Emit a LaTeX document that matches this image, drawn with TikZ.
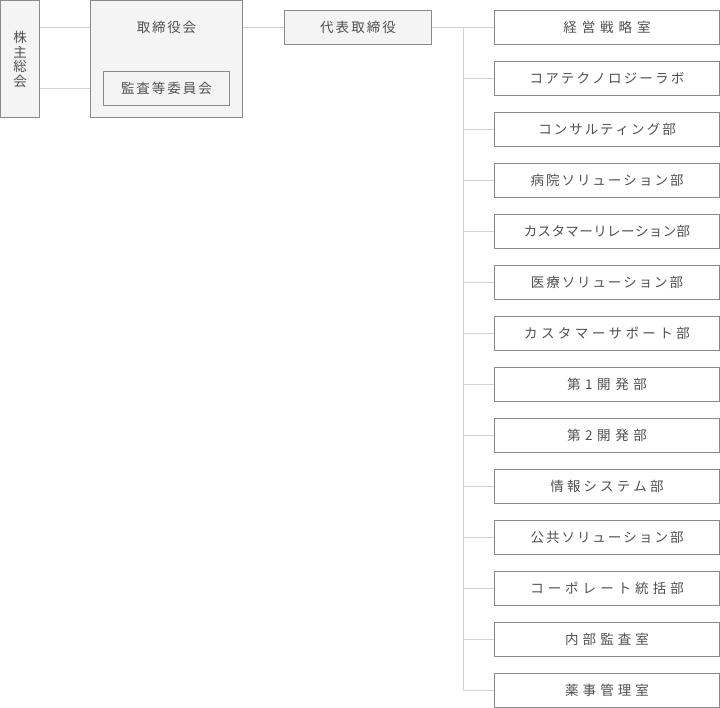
\documentclass[tikz,border=0pt]{standalone}
\usepackage{fontspec}
\setmainfont{Noto Sans CJK JP}
\usetikzlibrary{calc}
\definecolor{bordergray}{HTML}{8A8A8A}
\definecolor{linegray}{HTML}{D2D2D2}
\definecolor{fillgray}{HTML}{F4F4F4}
\definecolor{textgray}{HTML}{505050}
\ExplSyntaxOn
\NewDocumentCommand\lsp{mm}{
  \int_zero:N \l_tmpa_int
  \tl_map_inline:nn {#2}{
    \int_compare:nNnT {\l_tmpa_int} > {0} {\hspace*{#1}}
    \int_incr:N \l_tmpa_int
    ##1
  }
}
\ExplSyntaxOff
\tikzset{
  orgbox/.style={draw=bordergray, line width=1pt, rectangle, inner sep=0pt, text=textgray,
    font=\fontsize{13.5}{16}\selectfont},
  greybox/.style={orgbox, fill=fillgray},
  deptbox/.style={orgbox, fill=white, minimum width=225pt, minimum height=34pt},
  plaintext/.style={inner sep=0pt, text=textgray, font=\fontsize{13.5}{16}\selectfont},
  conn/.style={draw=linegray, line width=1pt},
}
\begin{document}
\begin{tikzpicture}[x=1pt, y=-1pt]
\useasboundingbox (0,0) rectangle (720,708);
\fill[white] (0,0) rectangle (720,708);

% left column
\node[greybox, minimum width=39pt, minimum height=117.5pt, align=center,
      font=\fontsize{13.5}{14.6}\selectfont] (kabu) at (20,59.25) {株\\主\\総\\会};
\node[greybox, minimum width=152pt, minimum height=117.5pt] (board) at (166.5,59.25) {};
\node[plaintext] (boardtxt) at (166.5,27.5) {\lsp{1.8pt}{取締役会}};
\node[greybox, minimum width=126pt, minimum height=34pt] (audit) at (166.5,88.5) {\lsp{2pt}{監査等委員会}};
\node[greybox, minimum width=147pt, minimum height=34pt] (rep) at (358,27.5) {\lsp{2.1pt}{代表取締役}};

% departments
\node[deptbox] (d1)  at (607,27.5)  {\lsp{4.9pt}{経営戦略室}};
\node[deptbox] (d2)  at (607,78.5)  {\lsp{2.2pt}{コアテクノロジーラボ}};
\node[deptbox] (d3)  at (607,129.5) {\lsp{2.0pt}{コンサルティング部}};
\node[deptbox] (d4)  at (607,180.5) {\lsp{2.0pt}{病院ソリューション部}};
\node[deptbox] (d5)  at (607,231.5) {\lsp{0.4pt}{カスタマーリレーション部}};
\node[deptbox] (d6)  at (607,282.5) {\lsp{1.9pt}{医療ソリューション部}};
\node[deptbox] (d7)  at (607,333.5) {\lsp{3.4pt}{カスタマーサポート部}};
\node[deptbox] (d8)  at (607,384.5) {\lsp{4.6pt}{第1開発部}};
\node[deptbox] (d9)  at (607,435.5) {\lsp{4.6pt}{第2開発部}};
\node[deptbox] (d10) at (607,486.5) {\lsp{3.1pt}{情報システム部}};
\node[deptbox] (d11) at (607,537.5) {\lsp{2.0pt}{公共ソリューション部}};
\node[deptbox] (d12) at (607,588.5) {\lsp{4.0pt}{コーポレート統括部}};
\node[deptbox] (d13) at (607,639.5) {\lsp{4.1pt}{内部監査室}};
\node[deptbox] (d14) at (607,690.5) {\lsp{4.1pt}{薬事管理室}};

% connectors
\draw[conn] (kabu.east |- boardtxt) -- (board.west |- boardtxt);
\draw[conn] (kabu.east |- audit) -- (board.west |- audit);
\draw[conn] (board.east |- rep) -- (rep.west);
\coordinate (trunk) at (463.5,27.5);
\draw[conn] (rep.east) -- (trunk) -- (trunk |- d14.west) -- (d14.west);
\foreach \i in {1,...,13}{
  \draw[conn] (trunk |- d\i.west) -- (d\i.west);
}
\end{tikzpicture}
\end{document}
